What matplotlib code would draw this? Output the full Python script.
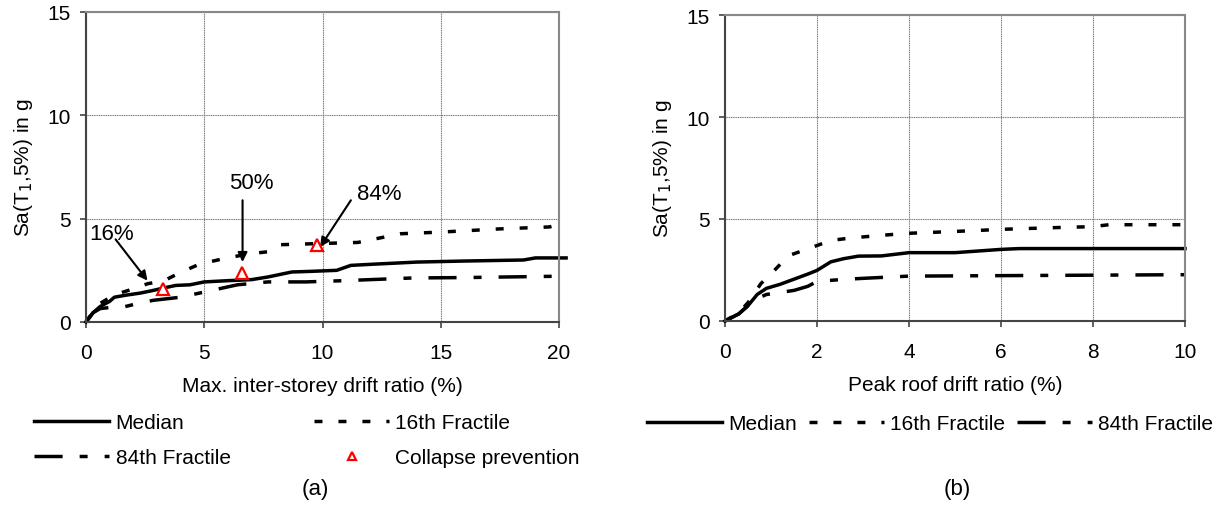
import matplotlib
matplotlib.use("Agg")
import matplotlib.pyplot as plt
from matplotlib.lines import Line2D

plt.rcParams['font.family'] = ['Liberation Sans', 'DejaVu Sans']

# ---------------- data ----------------
# (a) max inter-storey drift ratio (%) vs Sa
a_med_x = [0, 0.3, 0.6, 1.0, 1.2, 1.7, 2.3, 2.85, 3.3, 3.8, 4.4, 5.0, 6.0, 7.0, 7.7, 8.7, 9.5, 10.6, 11.2, 12.2, 14.0, 16.0, 18.5, 19.0, 20.3]
a_med_y = [0, 0.45, 0.75, 1.0, 1.2, 1.3, 1.4, 1.53, 1.65, 1.77, 1.8, 1.94, 2.0, 2.05, 2.18, 2.42, 2.45, 2.5, 2.74, 2.8, 2.9, 2.95, 3.0, 3.1, 3.1]

a_16_x = [0, 0.3, 0.6, 1.2, 2.0, 2.6, 3.3, 4.0, 4.8, 5.8, 6.9, 7.7, 8.2, 10.0, 11.5, 12.4, 13.3, 15.0, 17.4, 19.6, 20.1]
a_16_y = [0, 0.5, 0.9, 1.32, 1.6, 1.85, 2.0, 2.4, 2.8, 3.06, 3.3, 3.4, 3.74, 3.8, 3.85, 4.06, 4.27, 4.35, 4.5, 4.6, 4.75]

a_84_x = [0, 0.3, 0.6, 1.0, 1.6, 2.2, 2.85, 4.0, 5.0, 6.4, 7.7, 9.3, 10.9, 13.8, 16.0, 20.3]
a_84_y = [0, 0.45, 0.65, 0.7, 0.73, 0.9, 1.05, 1.2, 1.45, 1.8, 1.94, 1.94, 2.0, 2.13, 2.15, 2.22]

cp_x = [3.25, 6.6, 9.75]
cp_y = [1.61, 2.39, 3.74]

# (b) peak roof drift ratio (%) vs Sa
b_med_x = [0, 0.3, 0.5, 0.7, 0.9, 1.2, 1.5, 1.8, 2.0, 2.3, 2.57, 2.9, 3.4, 4.0, 5.0, 6.0, 6.4, 10.0]
b_med_y = [0, 0.35, 0.75, 1.3, 1.6, 1.8, 2.05, 2.3, 2.48, 2.9, 3.05, 3.18, 3.19, 3.35, 3.35, 3.51, 3.55, 3.55]

b_16_x = [0, 0.3, 0.5, 0.78, 1.04, 1.38, 2.0, 2.3, 2.74, 3.4, 4.0, 5.1, 6.1, 7.5, 7.96, 8.35, 10.0]
b_16_y = [0, 0.4, 0.9, 1.83, 2.4, 3.2, 3.7, 3.95, 4.07, 4.2, 4.3, 4.4, 4.5, 4.6, 4.62, 4.72, 4.72]

b_84_x = [0, 0.3, 0.5, 0.7, 0.9, 1.2, 1.5, 1.8, 2.0, 2.57, 3.08, 4.0, 10.0]
b_84_y = [0, 0.35, 0.75, 1.1, 1.3, 1.4, 1.5, 1.7, 1.94, 2.04, 2.1, 2.2, 2.27]

a_xticks = [0, 5, 10, 15, 20]
b_xticks = [0, 2, 4, 6, 8, 10]
yticks = [0, 5, 10, 15]

# ---------------- styles ----------------
LW = 2.5
FS = 15
med_style = dict(color='black', lw=LW, linestyle='-')
f16_style = dict(color='black', lw=LW, linestyle=(0, (2.3, 4.6)))
f84_style = dict(color='black', lw=LW, linestyle=(0, (8.1, 4.9, 2.3, 4.9)))

fig = plt.figure(figsize=(12.14, 5.10), dpi=100)
axa = fig.add_axes([86/1214, 1-323/510, 473/1214, 310/510])
axb = fig.add_axes([725/1214, 1-322/510, 460/1214, 306/510])


def style_axes(ax, xmax, xticks, xlabel):
    ax.set_xlim(0, xmax)
    ax.set_ylim(0, 15)
    ax.set_xticks(xticks)
    ax.set_yticks(yticks)
    ax.grid(True, color='#777777', lw=0.8, linestyle=(0, (1, 0.6)))
    ax.set_axisbelow(True)
    for s in ['left', 'bottom']:
        ax.spines[s].set_color('#444444')
        ax.spines[s].set_linewidth(1.5)
    for s in ['top', 'right']:
        ax.spines[s].set_color('#888888')
        ax.spines[s].set_linewidth(1.5)
    ax.tick_params(axis='both', direction='out', length=4, width=1.2, color='#444444',
                   labelsize=FS)
    ax.tick_params(axis='x', pad=11)
    ax.tick_params(axis='y', pad=7)
    ax.set_xlabel(xlabel, fontsize=FS, labelpad=10)
    ax.set_ylabel('Sa(T$_1$,5%) in g', fontsize=FS, labelpad=9)


# (a)
axa.plot(a_med_x, a_med_y, clip_on=False, **med_style)
axa.plot(a_16_x, a_16_y, clip_on=False, **f16_style)
axa.plot(a_84_x, a_84_y, clip_on=False, **f84_style)
axa.plot(cp_x, cp_y, linestyle='none', marker='^', markersize=8, markerfacecolor='white',
         markeredgecolor='red', markeredgewidth=1.6, zorder=5)
style_axes(axa, 20, a_xticks, 'Max. inter-storey drift ratio (%)')

arrow = dict(arrowstyle='-|>', color='black', lw=1.5, mutation_scale=14, shrinkA=0, shrinkB=0)
axa.text(1.09, 4.27, '16%', fontsize=FS + 1, ha='center', va='center')
axa.annotate('', xy=(2.6, 2.0), xytext=(1.25, 4.0), arrowprops=arrow)
axa.text(6.98, 6.77, '50%', fontsize=FS + 1, ha='center', va='center')
axa.annotate('', xy=(6.62, 2.9), xytext=(6.62, 5.89), arrowprops=arrow)
axa.text(12.4, 6.2, '84%', fontsize=FS + 1, ha='center', va='center')
axa.annotate('', xy=(9.9, 3.63), xytext=(11.2, 5.89), arrowprops=arrow)

# (b)
axb.plot(b_med_x, b_med_y, clip_on=False, **med_style)
axb.plot(b_16_x, b_16_y, clip_on=False, **f16_style)
axb.plot(b_84_x, b_84_y, clip_on=False, **f84_style)
style_axes(axb, 10, b_xticks, 'Peak roof drift ratio (%)')

# legends
h_med = Line2D([], [], **med_style)
h_16 = Line2D([], [], **f16_style)
h_84 = Line2D([], [], **f84_style)
h_cp = Line2D([], [], linestyle='none', marker='^', markersize=6, markerfacecolor='white',
              markeredgecolor='red', markeredgewidth=1.6)

fig.legend([h_med, h_84, h_16, h_cp], ['Median', '84th Fractile', '16th Fractile', 'Collapse prevention'],
           ncol=2, loc='upper left', bbox_to_anchor=(24/1214, 1-404/510), frameon=False,
           fontsize=FS, handlelength=3.6, handletextpad=0.3, columnspacing=4.0,
           labelspacing=0.75, borderpad=0)
fig.legend([h_med, h_16, h_84], ['Median', '16th Fractile', '84th Fractile'],
           ncol=3, loc='upper left', bbox_to_anchor=(637/1214, 1-405/510), frameon=False,
           fontsize=FS, handlelength=3.6, handletextpad=0.3, columnspacing=0.55, borderpad=0)

fig.text(315/1214, 1-490/510, '(a)', fontsize=FS + 1, ha='center', va='center')
fig.text(957/1214, 1-490/510, '(b)', fontsize=FS + 1, ha='center', va='center')

fig.savefig('out.png', dpi=100)
